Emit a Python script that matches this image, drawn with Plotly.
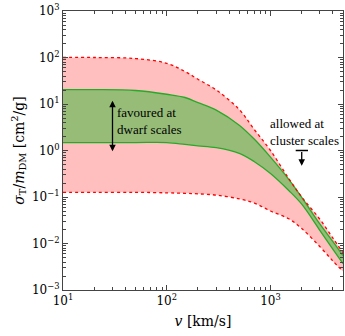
import numpy as np
import plotly.graph_objects as go

# velocity grid [km/s]
v = [10, 20, 50, 100, 150, 200, 300, 500, 700, 1000, 1500, 2000, 3000, 4000, 5000]

# sigma_T / m_DM [cm^2/g]
red_hi = [100, 100, 95, 75, 50, 34, 20, 7.6, 2.8, 1.0, 0.25, 0.10, 0.033, 0.013, 0.0063]
red_lo = [0.126, 0.126, 0.126, 0.123, 0.12, 0.117, 0.11, 0.091, 0.074, 0.05, 0.034, 0.021, 0.0085, 0.0042, 0.0025]
green_hi = [20.4, 20.4, 19.5, 16.2, 13.8, 10.7, 7.4, 3.5, 1.74, 0.72, 0.24, 0.098, 0.026, 0.011, 0.0055]
green_lo = [1.48, 1.48, 1.48, 1.48, 1.35, 1.26, 1.15, 0.87, 0.575, 0.32, 0.138, 0.07, 0.019, 0.0075, 0.0037]

# annotation positions
dwarf_v, dwarf_lo, dwarf_hi = 30, 0.9, 11.8
cluster_v, cluster_bound, cluster_tip = 2000, 1.0, 0.47
cluster_bar = [1750, 2300]

x_ticks = [10, 100, 1000]
x_labels = ['10<sup>1</sup>', '10<sup>2</sup>', '10<sup>3</sup>']
y_ticks = [1e-3, 1e-2, 1e-1, 1, 10, 100, 1000]
y_labels = ['10<sup>−3</sup>', '10<sup>−2</sup>', '10<sup>−1</sup>', '10<sup>0</sup>',
            '10<sup>1</sup>', '10<sup>2</sup>', '10<sup>3</sup>']

pink = 'rgb(255,191,191)'
olive = 'rgb(150,188,120)'
red = 'rgb(255,0,0)'
green = 'rgb(40,170,40)'
font = 'DejaVu Serif'
note_font = 'Liberation Serif'

fig = go.Figure()

# filled bands
fig.add_trace(go.Scatter(x=v, y=red_lo, mode='lines', line=dict(width=0, shape='spline'),
                         hoverinfo='skip', showlegend=False))
fig.add_trace(go.Scatter(x=v, y=red_hi, mode='lines', line=dict(width=0, shape='spline'),
                         fill='tonexty', fillcolor=pink, hoverinfo='skip', showlegend=False))
fig.add_trace(go.Scatter(x=v, y=green_lo, mode='lines', line=dict(width=0, shape='spline'),
                         hoverinfo='skip', showlegend=False))
fig.add_trace(go.Scatter(x=v, y=green_hi, mode='lines', line=dict(width=0, shape='spline'),
                         fill='tonexty', fillcolor=olive, hoverinfo='skip', showlegend=False))

# boundary lines
for ys in (green_lo, green_hi):
    fig.add_trace(go.Scatter(x=v, y=ys, mode='lines', showlegend=False,
                             line=dict(color=green, width=1.3, shape='spline')))
for ys in (red_lo, red_hi):
    fig.add_trace(go.Scatter(x=v, y=ys, mode='lines', showlegend=False,
                             line=dict(color=red, width=1.3, dash='3px,3px', shape='spline')))

# cluster bound bar
fig.add_trace(go.Scatter(x=cluster_bar, y=[cluster_bound, cluster_bound], mode='lines',
                         showlegend=False, line=dict(color='black', width=1.5)))

fig.add_annotation(x=np.log10(dwarf_v), y=np.log10(dwarf_hi), ax=np.log10(dwarf_v),
                   ay=np.log10(dwarf_lo), xref='x', yref='y', axref='x', ayref='y',
                   text='', showarrow=True, arrowhead=2, arrowside='end+start',
                   arrowsize=1, arrowwidth=1.3, arrowcolor='black')
fig.add_annotation(x=np.log10(cluster_v), y=np.log10(cluster_tip), ax=np.log10(cluster_v),
                   ay=np.log10(cluster_bound), xref='x', yref='y', axref='x', ayref='y',
                   text='', showarrow=True, arrowhead=2, arrowsize=1, arrowwidth=1.3,
                   arrowcolor='black')

fig.add_annotation(x=np.log10(32), y=np.log10(4.3), xref='x', yref='y', showarrow=False,
                   text='favoured at<br>dwarf scales', align='left', xanchor='left',
                   yanchor='middle', font=dict(family=note_font, size=13, color='black'))
fig.add_annotation(x=np.log10(950), y=np.log10(2.45), xref='x', yref='y', showarrow=False,
                   text='allowed at<br>cluster scales', align='left', xanchor='left',
                   yanchor='middle', font=dict(family=note_font, size=13, color='black'))

axis_common = dict(type='log', showgrid=False, zeroline=False, showline=True,
                   linecolor='#444', linewidth=1, mirror='allticks', ticks='inside',
                   ticklen=5, tickcolor='#444', automargin=False,
                   minor=dict(dtick='D1', ticks='inside', ticklen=3, tickcolor='#444'),
                   tickfont=dict(family=font, size=12, color='black'))

fig.update_xaxes(range=[1, np.log10(5000)], tickvals=x_ticks, ticktext=x_labels,
                 title=dict(text='<i>v</i> [km/s]', font=dict(family=font, size=14, color='black'),
                            standoff=8),
                 **axis_common)
fig.update_yaxes(range=[-3, 3], tickvals=y_ticks, ticktext=y_labels,
                 title=dict(text='<i>σ</i><sub>T</sub>/<i>m</i><sub>DM</sub> [cm<sup>2</sup>/g]',
                            font=dict(family=font, size=14, color='black'), standoff=4),
                 **axis_common)

fig.update_layout(width=345, height=336, plot_bgcolor='white', paper_bgcolor='white',
                  margin=dict(l=63, r=2, t=11, b=46))

# drop the page's default body margin so the figure fills the window exactly
fig.write_html("out.html", config={'displayModeBar': False},
               post_script="document.body.style.margin='0';")
